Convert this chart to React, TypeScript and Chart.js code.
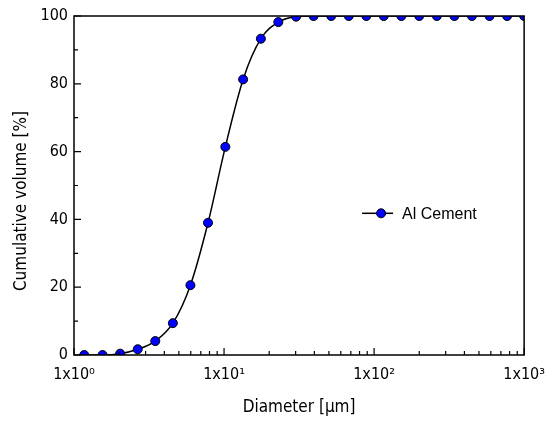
import React, { useEffect, useRef } from "react";
import { Chart, registerables } from "chart.js";

Chart.register(...registerables);

const diameters = [1.17, 1.55, 2.03, 2.66, 3.48, 4.56, 5.97, 7.82, 10.2, 13.4, 17.6, 23.0, 30.2, 39.5, 51.8, 67.8, 88.8, 116, 152, 200, 262, 343, 449, 588, 770, 1000];
const cumulative = [0, 0, 0.4, 1.7, 4.1, 9.4, 20.6, 39.0, 61.4, 81.3, 93.3, 98.2, 99.8, 100, 100, 100, 100, 100, 100, 100, 100, 100, 100, 100, 100, 100];
const xMajorTicks = [1, 10, 100, 1000];
const xTickLabels = ["1x10\u2070", "1x10\u00b9", "1x10\u00b2", "1x10\u00b3"];
const yMajorTicks = [0, 20, 40, 60, 80, 100];
const yMinorTicks = [10, 30, 50, 70, 90];
const seriesName = "Al Cement";
const xTitle = "Diameter [\u03bcm]";
const yTitle = "Cumulative volume [%]";

const FONT = "'DejaVu Sans Condensed', 'DejaVu Sans', sans-serif";

const clipPlugin = {
  id: "areaClip",
  beforeDatasetsDraw(chart: any) {
    const { ctx, chartArea } = chart;
    ctx.save();
    ctx.beginPath();
    ctx.rect(chartArea.left, chartArea.top, chartArea.right - chartArea.left, chartArea.bottom - chartArea.top);
    ctx.clip();
  },
  afterDatasetsDraw(chart: any) {
    chart.ctx.restore();
  },
};

const decorPlugin = {
  id: "decor",
  afterDatasetsDraw(chart: any) {
    const { ctx, chartArea, scales } = chart;
    const { left, right, top, bottom } = chartArea;
    const xs = scales.x;
    const ys = scales.y;
    ctx.save();
    ctx.strokeStyle = "#000";
    ctx.lineWidth = 1.5;
    ctx.strokeRect(left, top, right - left, bottom - top);
    ctx.lineWidth = 1.2;
    ctx.beginPath();
    for (let d = 0; d < xMajorTicks.length; d++) {
      const base = xMajorTicks[d];
      const px = xs.getPixelForValue(base);
      ctx.moveTo(px, bottom);
      ctx.lineTo(px, bottom - 7);
      if (d < xMajorTicks.length - 1) {
        for (let m = 2; m <= 9; m++) {
          const mp = xs.getPixelForValue(base * m);
          ctx.moveTo(mp, bottom);
          ctx.lineTo(mp, bottom - 4);
        }
      }
    }
    for (const v of yMajorTicks) {
      const py = ys.getPixelForValue(v);
      ctx.moveTo(left, py);
      ctx.lineTo(left + 7, py);
    }
    for (const v of yMinorTicks) {
      const py = ys.getPixelForValue(v);
      ctx.moveTo(left, py);
      ctx.lineTo(left + 4, py);
    }
    ctx.stroke();

    const lx = left + (right - left) * 0.64;
    const ly = top + (bottom - top) * 0.582;
    ctx.lineWidth = 1.5;
    ctx.beginPath();
    ctx.moveTo(lx, ly);
    ctx.lineTo(lx + 31, ly);
    ctx.stroke();
    ctx.beginPath();
    ctx.arc(lx + 19, ly, 4.5, 0, Math.PI * 2);
    ctx.fillStyle = "#0000ff";
    ctx.fill();
    ctx.lineWidth = 1;
    ctx.stroke();
    ctx.fillStyle = "#000";
    ctx.font = "16px 'Liberation Sans', Arial, sans-serif";
    ctx.textAlign = "left";
    ctx.textBaseline = "middle";
    ctx.fillText(seriesName, lx + 40, ly + 1);

    ctx.font = "17px " + FONT;
    ctx.textAlign = "center";
    ctx.textBaseline = "middle";
    ctx.fillText(xTitle, (left + right) / 2, 408);
    ctx.translate(22, 201);
    ctx.rotate(-Math.PI / 2);
    ctx.fillText(yTitle, 0, 0);
    ctx.restore();
  },
};

export default function App() {
  const ref = useRef<HTMLCanvasElement | null>(null);
  useEffect(() => {
    document.body.style.margin = "0";
    const canvas = ref.current;
    if (!canvas) return;
    const chart = new Chart(canvas, {
      type: "line",
      data: {
        datasets: [
          {
            label: seriesName,
            data: diameters.map((d, i) => ({ x: d, y: cumulative[i] })),
            borderColor: "#000",
            borderWidth: 1.5,
            backgroundColor: "#0000ff",
            pointBackgroundColor: "#0000ff",
            pointBorderColor: "#000",
            pointBorderWidth: 1,
            pointRadius: 4.5,
            cubicInterpolationMode: "monotone",
            clip: 0,
          } as any,
        ],
      },
      options: {
        animation: false,
        responsive: false,
        events: [],
        layout: { padding: { left: 0, right: 30, top: 16, bottom: 0 } },
        plugins: { legend: { display: false }, tooltip: { enabled: false } },
        scales: {
          x: {
            type: "logarithmic",
            min: 1,
            max: 1000,
            grid: { display: false, drawTicks: false },
            border: { display: false },
            afterBuildTicks: (scale: any) => {
              scale.ticks = xMajorTicks.map((v) => ({ value: v, major: true }));
            },
            afterFit: (scale: any) => {
              scale.height = 70;
            },
            ticks: {
              autoSkip: false,
              maxRotation: 0,
              padding: 10,
              color: "#000",
              font: { family: FONT, size: 16 },
              callback: (v: any) => {
                const i = xMajorTicks.indexOf(Number(v));
                return i >= 0 ? xTickLabels[i] : "";
              },
            },
          },
          y: {
            type: "linear",
            min: 0,
            max: 100,
            grid: { display: false, drawTicks: false },
            border: { display: false },
            afterFit: (scale: any) => {
              scale.width = 74;
            },
            ticks: {
              stepSize: 20,
              padding: 6,
              color: "#000",
              font: { family: FONT, size: 16 },
            },
          },
        },
      },
      plugins: [clipPlugin, decorPlugin],
    });
    return () => chart.destroy();
  }, []);
  return (
    <div style={{ width: 555, height: 425 }}>
      <canvas ref={ref} width={555} height={425} />
    </div>
  );
}
